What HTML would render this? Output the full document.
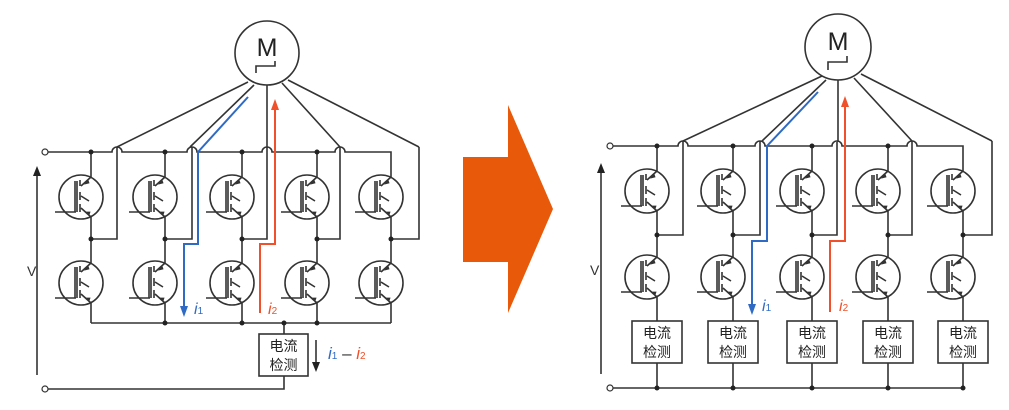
<!DOCTYPE html>
<html><head><meta charset="utf-8"><style>
html,body{margin:0;padding:0;background:#fff;}
svg{display:block;}
text{font-family:"Liberation Sans","Noto Sans CJK SC",sans-serif;}
</style></head><body>
<svg width="1009" height="410" viewBox="0 0 1009 410" xmlns="http://www.w3.org/2000/svg">
<defs>
<g id="t" fill="none" stroke="#333" stroke-width="1.6">
<circle cx="-10" cy="0" r="22"/>
<path d="M-36,15 H-15 M-16,-16 V15 M-14,-16 V15"/>
<path d="M-11,-17 V-11 M-11,-5 V3 M-11,7 V15"/>
<path d="M-10,-11 L0,-20 M-10,11 L0,20 M-10,-1 L-2,4"/>
<path d="M-3,-17 L-6,-13 L-2,-14 Z M-2,18 L-5,15 L-1,15 Z" fill="#333" stroke-width="0.8"/>
</g>
</defs>

<!-- LEFT -->
<g fill="none" stroke="#333" stroke-width="1.6">
<circle cx="267" cy="53" r="32"/>
<path d="M256,73 V66 H275 V61"/>
<path d="M248,82 L117,147 M254,85 L190,147 M267,85 V148 M282,83 L340,147 M288,80 L419,147"/>
<path d="M48,152 H112 a5,5 0 0 1 10,0 H187 a5,5 0 0 1 10,0 H262 a5,5 0 0 1 10,0 H335 a5,5 0 0 1 10,0 H391 V177"/>
<path d="M117,147 V239 H91 M192,147 V239 H165 M267,148 V239 H242 M340,147 V239 H317 M419,147 V239 H391"/>
<path d="M91,152 V177 M165,152 V177 M242,152 V177 M317,152 V177"/>
<path d="M91,217 V263 M165,217 V263 M242,217 V263 M317,217 V263 M391,217 V263"/>
<path d="M91,303 V323 M165,303 V323 M242,303 V323 M317,303 V323 M391,303 V323 M91,323 H391"/>
<path d="M284,323 V334 M284,376 V389 H48"/>
<rect x="259" y="334" width="49" height="42"/>
<circle cx="45" cy="152" r="3" stroke-width="1.2"/>
<circle cx="45" cy="389" r="3" stroke-width="1.2"/>
<path d="M37,375 V172"/>
<path d="M316,340 V364"/>
</g>
<path d="M37,166 L33,176 L41,176 Z M316,372 L312,362 L320,362 Z" fill="#222"/>
<use href="#t" x="91" y="197"/><use href="#t" x="165" y="197"/><use href="#t" x="242" y="197"/><use href="#t" x="317" y="197"/><use href="#t" x="391" y="197"/>
<use href="#t" x="91" y="283"/><use href="#t" x="165" y="283"/><use href="#t" x="242" y="283"/><use href="#t" x="317" y="283"/><use href="#t" x="391" y="283"/>
<g fill="#222">
<circle cx="91" cy="152" r="2.5"/><circle cx="165" cy="152" r="2.5"/><circle cx="242" cy="152" r="2.5"/><circle cx="317" cy="152" r="2.5"/>
<circle cx="91" cy="239" r="2.5"/><circle cx="165" cy="239" r="2.5"/><circle cx="242" cy="239" r="2.5"/><circle cx="317" cy="239" r="2.5"/><circle cx="391" cy="239" r="2.5"/>
<circle cx="165" cy="323" r="2.5"/><circle cx="242" cy="323" r="2.5"/><circle cx="284" cy="323" r="2.5"/><circle cx="317" cy="323" r="2.5"/>
</g>
<path d="M248,97 L198,152 V244 H184 V308" fill="none" stroke="#2f6bc4" stroke-width="2"/>
<path d="M184,317 L180,306 L188,306 Z" fill="#2f6bc4"/>
<path d="M260,313 V244 H275 V108" fill="none" stroke="#f0502a" stroke-width="2"/>
<path d="M275,99 L271,110 L279,110 Z" fill="#f0502a"/>
<text x="267" y="56" font-size="25" text-anchor="middle" fill="#222">M</text>
<text x="27" y="276" font-size="14" fill="#333">V</text>
<text x="194" y="314" font-size="16" font-style="italic" font-family="Liberation Serif,serif" fill="#2f6bc4">i<tspan font-size="10" font-style="normal">1</tspan></text>
<text x="268" y="314" font-size="16" font-style="italic" font-family="Liberation Serif,serif" fill="#f0502a">i<tspan font-size="10" font-style="normal">2</tspan></text>
<text x="328" y="359" font-size="17" font-style="italic" font-family="Liberation Serif,serif"><tspan fill="#2f6bc4">i</tspan><tspan fill="#2f6bc4" font-size="10" font-style="normal">1</tspan><tspan fill="#333" font-style="normal"> – </tspan><tspan fill="#f0502a">i</tspan><tspan fill="#f0502a" font-size="10" font-style="normal">2</tspan></text>
<text x="283.5" y="351" font-size="14" text-anchor="middle" fill="#222">电流</text>
<text x="283.5" y="370" font-size="14" text-anchor="middle" fill="#222">检测</text>

<!-- ORANGE ARROW -->
<path d="M463,157 H508 V105 L553,209 L508,313 V262 H463 Z" fill="#e85a0a"/>

<!-- RIGHT -->
<g fill="none" stroke="#333" stroke-width="1.6">
<circle cx="838" cy="47" r="33"/>
<path d="M828,70 V62 H847 V56"/>
<path d="M822,76 L683,141 M826,80 L762,141 M838,80 V142 M854,78 L912,141 M861,74 L992,141"/>
<path d="M613,146 H678 a5,5 0 0 1 10,0 H755 a5,5 0 0 1 10,0 H832 a5,5 0 0 1 10,0 H907 a5,5 0 0 1 10,0 H963 V171"/>
<path d="M683,141 V235 H657 M760,141 V235 H733 M837,142 V235 H812 M912,141 V235 H888 M992,141 V235 H963"/>
<path d="M657,146 V171 M733,146 V171 M812,146 V171 M888,146 V171"/>
<path d="M657,211 V257 M733,211 V257 M812,211 V257 M888,211 V257 M963,211 V257"/>
<path d="M657,297 V321 M733,297 V321 M812,297 V321 M888,297 V321 M963,297 V321"/>
<path d="M657,363 V388 M733,363 V388 M812,363 V388 M888,363 V388 M963,363 V388 M613,388 H963"/>
<rect x="632" y="321" width="50" height="42"/><rect x="708" y="321" width="50" height="42"/><rect x="787" y="321" width="50" height="42"/><rect x="863" y="321" width="50" height="42"/><rect x="938" y="321" width="50" height="42"/>
<circle cx="610" cy="146" r="3" stroke-width="1.2"/>
<circle cx="610" cy="388" r="3" stroke-width="1.2"/>
<path d="M601,374 V169"/>
</g>
<path d="M601,163 L597,173 L605,173 Z" fill="#222"/>
<use href="#t" x="657" y="191"/><use href="#t" x="733" y="191"/><use href="#t" x="812" y="191"/><use href="#t" x="888" y="191"/><use href="#t" x="963" y="191"/>
<use href="#t" x="657" y="277"/><use href="#t" x="733" y="277"/><use href="#t" x="812" y="277"/><use href="#t" x="888" y="277"/><use href="#t" x="963" y="277"/>
<g fill="#222">
<circle cx="657" cy="146" r="2.5"/><circle cx="733" cy="146" r="2.5"/><circle cx="812" cy="146" r="2.5"/><circle cx="888" cy="146" r="2.5"/>
<circle cx="657" cy="235" r="2.5"/><circle cx="733" cy="235" r="2.5"/><circle cx="812" cy="235" r="2.5"/><circle cx="888" cy="235" r="2.5"/><circle cx="963" cy="235" r="2.5"/>
<circle cx="657" cy="388" r="2.5"/><circle cx="733" cy="388" r="2.5"/><circle cx="812" cy="388" r="2.5"/><circle cx="888" cy="388" r="2.5"/><circle cx="963" cy="388" r="2.5"/>
</g>
<path d="M818,92 L767,146 V241 H752 V306" fill="none" stroke="#2f6bc4" stroke-width="2"/>
<path d="M752,315 L748,304 L756,304 Z" fill="#2f6bc4"/>
<path d="M830,312 V241 H845 V105" fill="none" stroke="#f0502a" stroke-width="2"/>
<path d="M845,96 L841,107 L849,107 Z" fill="#f0502a"/>
<text x="838" y="50" font-size="25" text-anchor="middle" fill="#222">M</text>
<text x="590" y="275" font-size="14" fill="#333">V</text>
<text x="762" y="311" font-size="16" font-style="italic" font-family="Liberation Serif,serif" fill="#2f6bc4">i<tspan font-size="10" font-style="normal">1</tspan></text>
<text x="839" y="311" font-size="16" font-style="italic" font-family="Liberation Serif,serif" fill="#f0502a">i<tspan font-size="10" font-style="normal">2</tspan></text>
<g font-size="14" text-anchor="middle" fill="#222">
<text x="657" y="338">电流</text><text x="657" y="357">检测</text>
<text x="733" y="338">电流</text><text x="733" y="357">检测</text>
<text x="812" y="338">电流</text><text x="812" y="357">检测</text>
<text x="888" y="338">电流</text><text x="888" y="357">检测</text>
<text x="963" y="338">电流</text><text x="963" y="357">检测</text>
</g>
</svg>
</body></html>
